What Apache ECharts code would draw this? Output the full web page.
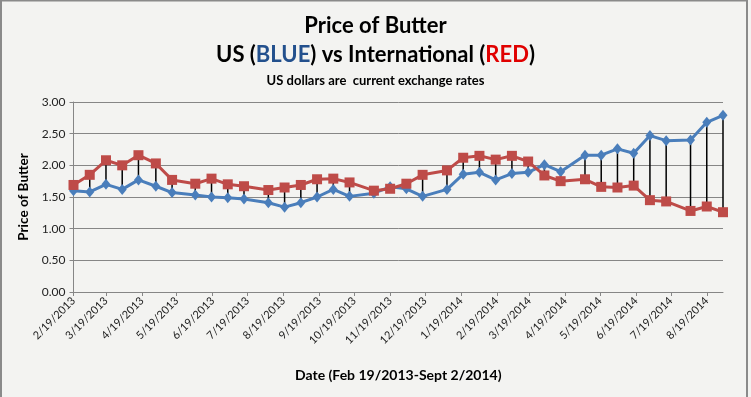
<!DOCTYPE html>
<html>
<head>
<meta charset="utf-8">
<script src="https://cdn.jsdelivr.net/npm/echarts@6/dist/echarts.min.js"></script>
<style>
  html, body { margin: 0; padding: 0; background: #f3f3f1; }
  #chart { width: 751px; height: 397px; }
</style>
</head>
<body>
<div id="chart"></div>
<script>
  // auction dates (Global Dairy Trade), Feb 2013 - Sept 2014
  var dates = [
    '2013-02-19', '2013-03-05', '2013-03-19', '2013-04-02', '2013-04-16', '2013-05-01',
    '2013-05-15', '2013-06-04', '2013-06-18', '2013-07-02', '2013-07-16', '2013-08-06',
    '2013-08-20', '2013-09-03', '2013-09-17', '2013-10-01', '2013-10-15', '2013-11-05',
    '2013-11-19', '2013-12-03', '2013-12-17', '2014-01-07', '2014-01-21', '2014-02-04',
    '2014-02-18', '2014-03-04', '2014-03-18', '2014-04-01', '2014-04-15', '2014-05-06',
    '2014-05-20', '2014-06-03', '2014-06-17', '2014-07-01', '2014-07-15', '2014-08-05',
    '2014-08-19', '2014-09-02'
  ]
  var usPrice = [
    1.60, 1.58, 1.70, 1.62, 1.77, 1.67, 1.57, 1.53, 1.50, 1.49, 1.47, 1.41, 1.34,
    1.41, 1.50, 1.62, 1.51, 1.56, 1.66, 1.63, 1.51, 1.62, 1.86, 1.89, 1.77, 1.87,
    1.89, 2.01, 1.90, 2.16, 2.16, 2.26, 2.19, 2.47, 2.39, 2.40, 2.68, 2.79
  ]
  var intlPrice = [
    1.69, 1.85, 2.08, 2.00, 2.16, 2.03, 1.77, 1.71, 1.79, 1.70, 1.67, 1.61, 1.65,
    1.69, 1.78, 1.79, 1.73, 1.60, 1.63, 1.71, 1.85, 1.92, 2.12, 2.15, 2.09, 2.15,
    2.06, 1.84, 1.75, 1.78, 1.66, 1.65, 1.68, 1.45, 1.43, 1.28, 1.35, 1.26
  ]
  // x axis tick labels, one per month
  var tickDates = [
    '2013-02-19', '2013-03-19', '2013-04-19', '2013-05-19', '2013-06-19', '2013-07-19',
    '2013-08-19', '2013-09-19', '2013-10-19', '2013-11-19', '2013-12-19', '2014-01-19',
    '2014-02-19', '2014-03-19', '2014-04-19', '2014-05-19', '2014-06-19', '2014-07-19',
    '2014-08-19'
  ]

  // dates as whole days since 2/19/2013, on a plain value axis
  var DAY = 86400000
  var t0 = Date.UTC(2013, 1, 19)
  function toDay(s) {
    var p = s.split('-')
    return Math.round((Date.UTC(+p[0], +p[1] - 1, +p[2]) - t0) / DAY)
  }
  function dayLabel(v) {
    var d = new Date(t0 + v * DAY)
    return (d.getUTCMonth() + 1) + '/' + d.getUTCDate() + '/' + d.getUTCFullYear()
  }
  var days = dates.map(toDay)
  var tickDays = tickDates.map(toDay)

  var chart = echarts.init(document.getElementById('chart'))
  var font = 'Lato, "Open Sans", sans-serif'

  var option = {
    backgroundColor: '#f3f3f1',
    animation: false,
    title: [
      {
        text: 'Price of Butter',
        left: 'center', top: 10,
        textStyle: { fontFamily: font, fontSize: 22, fontWeight: 'bold', color: '#000' }
      },
      {
        text: '{n|US (}{b|BLUE}{n|) vs International (}{r|RED}{n|)}',
        left: 'center', top: 39,
        textStyle: {
          rich: {
            n: { fontFamily: font, fontSize: 22, fontWeight: 'bold', color: '#000' },
            b: { fontFamily: font, fontSize: 22, fontWeight: 'bold', color: '#23508d' },
            r: { fontFamily: font, fontSize: 22, fontWeight: 'bold', color: '#e00000' }
          }
        }
      },
      {
        text: 'US dollars are  current exchange rates',
        left: 'center', top: 69,
        textStyle: { fontFamily: font, fontSize: 13, fontWeight: 'bold', color: '#000' }
      }
    ],
    grid: { left: 73.5, right: 28, top: 102, bottom: 105 },
    xAxis: {
      type: 'value',
      min: days[0],
      max: days[days.length - 1],
      name: 'Date (Feb 19/2013-Sept 2/2014)',
      nameLocation: 'middle',
      nameGap: 76,
      nameTextStyle: { fontFamily: font, fontSize: 14, fontWeight: 'bold', color: '#000' },
      axisLine: { lineStyle: { color: '#868686' } },
      axisTick: { show: true, length: 4, inside: false, customValues: tickDays, lineStyle: { color: '#868686' } },
      splitLine: { show: false },
      axisLabel: {
        customValues: tickDays,
        rotate: 45,
        margin: 7,
        fontFamily: font,
        fontSize: 11,
        color: '#222',
        formatter: dayLabel
      }
    },
    yAxis: {
      type: 'value',
      min: 0, max: 3, interval: 0.5,
      name: 'Price of Butter',
      nameLocation: 'middle',
      nameGap: 43,
      nameTextStyle: { fontFamily: font, fontSize: 13.5, fontWeight: 'bold', color: '#000' },
      axisLine: { show: true, lineStyle: { color: '#868686' } },
      axisTick: { show: true, length: 4, lineStyle: { color: '#868686' } },
      splitLine: { lineStyle: { color: '#868686', width: 1 } },
      axisLabel: {
        margin: 8,
        fontFamily: font, fontSize: 12, color: '#222',
        formatter: function (v) { return v.toFixed(2) }
      }
    },
    graphic: [
      {
        type: 'rect',
        shape: { x: 1, y: 0.5, width: 746, height: 410 },
        style: { fill: 'none', stroke: '#8a8a8a', lineWidth: 2 },
        silent: true
      }
    ],
    series: [
      {
        // high-low drop lines between the two series
        type: 'custom',
        z: 1,
        data: days.map(function (t, i) { return [t, usPrice[i], intlPrice[i]] }),
        encode: { x: 0, y: [1, 2] },
        renderItem: function (params, api) {
          var a = api.coord([api.value(0), api.value(1)])
          var b = api.coord([api.value(0), api.value(2)])
          return {
            type: 'line',
            shape: { x1: a[0], y1: a[1], x2: b[0], y2: b[1] },
            style: { stroke: '#000', lineWidth: 1.5 }
          }
        }
      },
      {
        name: 'US',
        type: 'line',
        z: 2,
        data: days.map(function (t, i) { return [t, usPrice[i]] }),
        symbol: 'diamond',
        symbolSize: [9, 11],
        lineStyle: { color: '#4a7ebb', width: 3 },
        itemStyle: { color: '#4a7ebb' }
      },
      {
        name: 'International',
        type: 'line',
        z: 3,
        data: days.map(function (t, i) { return [t, intlPrice[i]] }),
        symbol: 'rect',
        symbolSize: 10,
        lineStyle: { color: '#be4b48', width: 3 },
        itemStyle: { color: '#be4b48' }
      }
    ]
  }
  chart.setOption(option)
</script>
</body>
</html>
